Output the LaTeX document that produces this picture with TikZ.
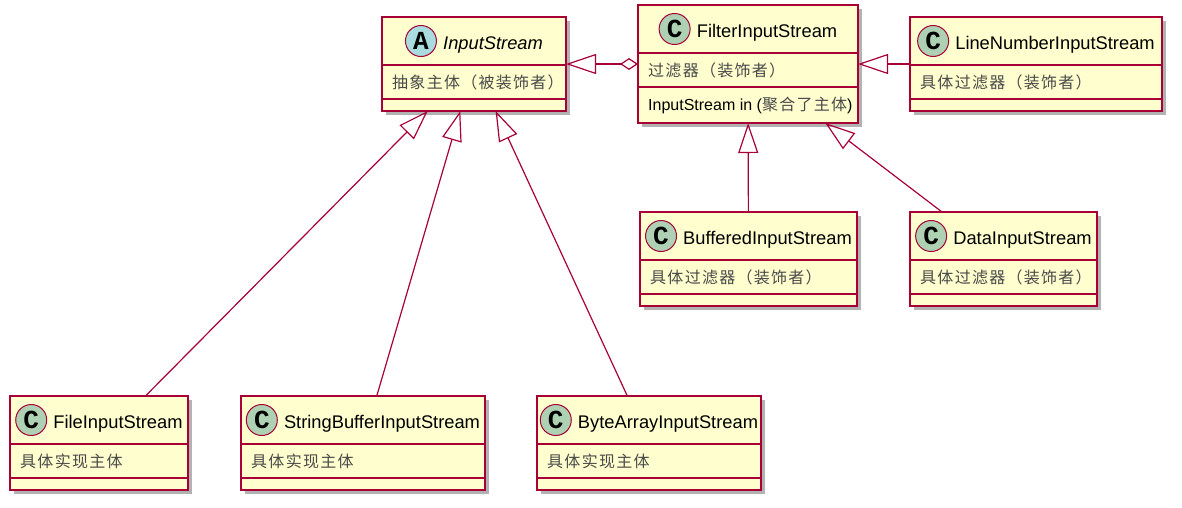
\documentclass[tikz,border=0pt]{standalone}
\usepackage{fontspec}
\setmainfont{Liberation Sans}
\newfontfamily\cjk[Color=4A4A4A, LetterSpace=8]{Noto Sans CJK SC}
\newfontfamily\circfont{Liberation Mono}
\usetikzlibrary{arrows.meta,shadows,positioning}
\definecolor{umlborder}{RGB}{168,0,54}
\definecolor{umlfill}{RGB}{254,254,206}
\definecolor{classcirc}{RGB}{173,209,178}
\definecolor{abstractcirc}{RGB}{169,220,223}

\tikzset{
  classbox/.style={draw=umlborder, fill=umlfill, line width=1.5pt, inner sep=0pt, outer sep=0pt,
    drop shadow={shadow xshift=4pt, shadow yshift=-4pt, opacity=0.3, fill=black}},
  sepline/.style={draw=umlborder, line width=1.5pt},
  titletext/.style={inner sep=0pt, anchor=base, font=\fontsize{18.3}{20}\selectfont},
  attrtext/.style={inner sep=0pt, anchor=west, font=\fontsize{16}{18}\selectfont},
  classletter/.style={circle, draw=umlborder, line width=1pt, minimum size=31pt, inner sep=0pt,
    font=\circfont\bfseries\fontsize{26}{26}\selectfont},
  extends/.style={draw=umlborder, line width=1.2pt, -{Triangle[open, length=30pt, width=20pt]}},
  aggregates/.style={draw=umlborder, line width=1.2pt,
    {Diamond[open, length=18pt, width=12pt]}-{Triangle[open, length=30pt, width=20pt]}},
}

% name, centre, width, height, circle colour, letter, title, first compartment
\newcommand{\umlclass}[8]{%
  \node[classbox, minimum width=#3pt, minimum height=#4pt] (#1) at #2 {};
  \draw[sepline] ([yshift=-48pt]#1.north west) -- ([yshift=-48pt]#1.north east);
  \draw[sepline] ([yshift=-82pt]#1.north west) -- ([yshift=-82pt]#1.north east);
  \node[titletext] (#1-title) at ([xshift=19pt, yshift=-32.5pt]#1.north) {#7};
  \node[classletter, fill=#5] (#1-circ) at ([xshift=-22pt, yshift=8.5pt]#1-title.base west) {#6};
  \node[attrtext] (#1-attr) at ([xshift=10pt, yshift=-65pt]#1.north west) {#8};
}

\begin{document}
\begin{tikzpicture}[x=1pt, y=-1pt]

  \path[use as bounding box, fill=white] (0,0) rectangle (1182,507);

  % top row
  \umlclass{input}{(474,64)}{184}{94}{abstractcirc}{A}{\itshape InputStream}{\cjk 抽象主体（被装饰者）}
  \umlclass{filter}{(748,64)}{220}{118}{classcirc}{C}{FilterInputStream}{\cjk 过滤器（装饰者）}
  \node[attrtext] (filter-method) at ([xshift=10pt, yshift=-100pt]filter.north west) {InputStream in ({\cjk 聚合了主体})};
  \umlclass{linenum}{(1036,64)}{252}{94}{classcirc}{C}{LineNumberInputStream}{\cjk 具体过滤器（装饰者）}

  % decorators
  \umlclass{buffered}{(748.5,259)}{217}{94}{classcirc}{C}{BufferedInputStream}{\cjk 具体过滤器（装饰者）}
  \umlclass{data}{(1003.5,259)}{187}{94}{classcirc}{C}{DataInputStream}{\cjk 具体过滤器（装饰者）}

  % concrete streams
  \umlclass{file}{(99,443)}{178}{94}{classcirc}{C}{FileInputStream}{\cjk 具体实现主体}
  \umlclass{strbuf}{(363,443)}{244}{94}{classcirc}{C}{StringBufferInputStream}{\cjk 具体实现主体}
  \umlclass{bytearr}{(649,443)}{224}{94}{classcirc}{C}{ByteArrayInputStream}{\cjk 具体实现主体}

  \draw[extends] (file) -- (input);
  \draw[extends] (strbuf) -- (input);
  \draw[extends] (bytearr) -- (input);
  \draw[aggregates] (filter) -- (input);
  \draw[extends] (linenum) -- (filter);
  \draw[extends] (buffered) -- (filter);
  \draw[extends] (data) -- (filter);
\end{tikzpicture}
\end{document}
